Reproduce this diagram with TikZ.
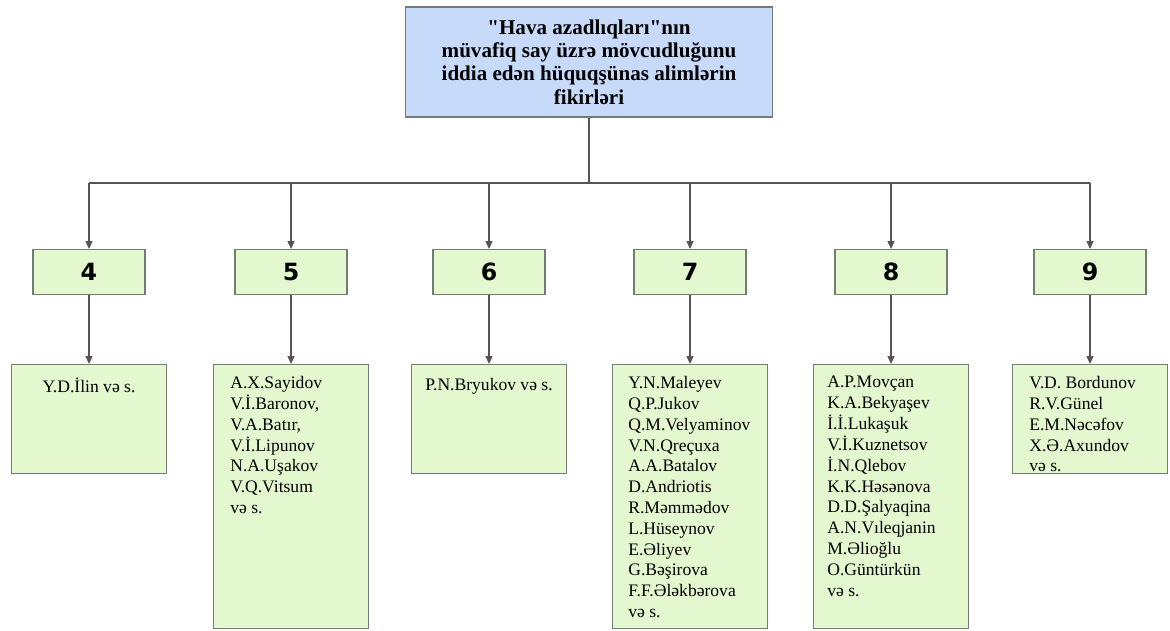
\documentclass[tikz,border=0pt]{standalone}
\usepackage{fontspec}
\setmainfont{Liberation Serif}
\newfontfamily\numfont{DejaVu Sans}
\usetikzlibrary{positioning,arrows.meta}
\definecolor{topblue}{RGB}{200,218,250}
\definecolor{boxgreen}{RGB}{228,248,208}
\definecolor{boxedge}{RGB}{115,125,115}
\definecolor{wiregray}{RGB}{85,85,85}

\begin{document}
\begin{tikzpicture}[x=0.02cm,y=-0.02cm,
  topbox/.style={draw=boxedge,fill=topblue,line width=0.6pt,minimum width=7.36cm,minimum height=2.2cm,align=center,font=\fontsize{12}{13.2}\selectfont\bfseries},
  numbox/.style={draw=boxedge,fill=boxgreen,line width=0.6pt,minimum width=2.24cm,minimum height=0.9cm,font=\numfont\bfseries\fontsize{13.5}{15}\selectfont},
  namebox/.style={draw=boxedge,fill=boxgreen,line width=0.6pt,minimum width=3.1cm,inner sep=0pt},
  names/.style={inner sep=0pt,align=left,font=\fontsize{10}{11.85}\selectfont},
  wire/.style={draw=wiregray,line width=0.6pt},
  arr/.style={wire,-{Triangle[width=4pt,length=4.5pt]}}]
\useasboundingbox (0,0) rectangle (1170,630);
\node[topbox] (top) at (589,62) {\textquotedbl Hava azadlıqları\textquotedbl nın\\müvafiq say üzrə mövcudluğunu\\iddia edən hüquqşünas alimlərin\\fikirləri};
\coordinate (bar) at (589,183);
\node[numbox] (n4) at (89,272) {4};
\node[numbox] (n5) at (291,272) {5};
\node[numbox] (n6) at (489,272) {6};
\node[numbox] (n7) at (690,272) {7};
\node[numbox] (n8) at (891,272) {8};
\node[numbox] (n9) at (1090,272) {9};
\node[namebox,minimum height=2.18cm,below=1.38cm of n4] (p4) {};
\node[namebox,minimum height=5.28cm,below=1.38cm of n5] (p5) {};
\node[namebox,minimum height=2.18cm,below=1.38cm of n6] (p6) {};
\node[namebox,minimum height=5.28cm,below=1.38cm of n7] (p7) {};
\node[namebox,minimum height=5.28cm,below=1.38cm of n8] (p8) {};
\node[namebox,minimum height=2.18cm,below=1.38cm of n9] (p9) {};
\node[names,anchor=north] (t4) at ([shift={(0,14)}]p4.north) {Y.D.İlin və s.};
\node[names,anchor=north west] (t5) at ([shift={(17,12)}]p5.north west) {A.X.Sayidov\\V.İ.Baronov,\\V.A.Batır,\\V.İ.Lipunov\\N.A.Uşakov\\V.Q.Vitsum\\və s.};
\node[names,anchor=north] (t6) at ([shift={(0,14)}]p6.north) {P.N.Bryukov və s.};
\node[names,anchor=north west] (t7) at ([shift={(16,12)}]p7.north west) {Y.N.Maleyev\\Q.P.Jukov\\Q.M.Velyaminov\\V.N.Qreçuxa\\A.A.Batalov\\D.Andriotis\\R.Məmmədov\\L.Hüseynov\\E.Əliyev\\G.Bəşirova\\F.F.Ələkbərova\\və s.};
\node[names,anchor=north west] (t8) at ([shift={(14,12)}]p8.north west) {A.P.Movçan\\K.A.Bekyaşev\\İ.İ.Lukaşuk\\V.İ.Kuznetsov\\İ.N.Qlebov\\K.K.Həsənova\\D.D.Şalyaqina\\A.N.Vıleqjanin\\M.Əlioğlu\\O.Güntürkün\\və s.};
\node[names,anchor=north west] (t9) at ([shift={(17,12)}]p9.north west) {V.D. Bordunov\\R.V.Günel\\E.M.Nəcəfov\\X.Ə.Axundov\\və s.};
\draw[wire] (top) -- (bar);
\draw[wire] (n4 |- bar) -- (n9 |- bar);
\foreach \i in {4,...,9} {
  \draw[arr] (n\i |- bar) -- (n\i);
  \draw[arr] (n\i) -- (p\i);
}
\end{tikzpicture}
\end{document}
